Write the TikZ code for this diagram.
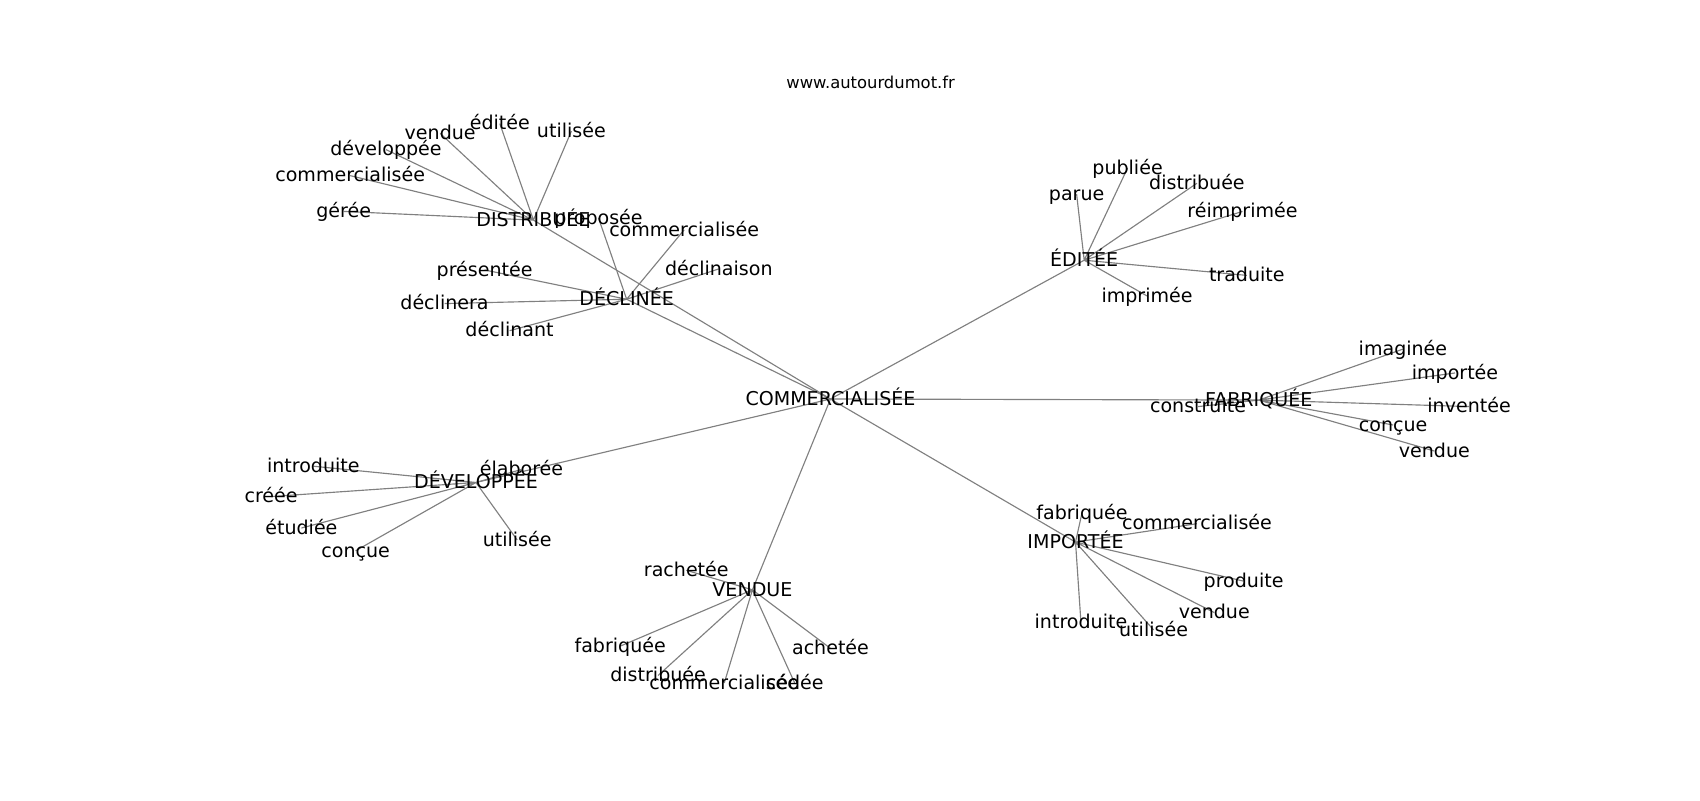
\documentclass[tikz,border=0pt]{standalone}
\usepackage{fontspec}
\setmainfont{DejaVu Sans}
\usetikzlibrary{backgrounds}

\begin{document}
\begin{tikzpicture}[x=0.02cm,y=-0.02cm,
    every node/.style={font=\fontsize{10}{12}\selectfont, text height=0.86em, text depth=0.2em, inner sep=0pt},
    lien/.style={draw=black!50, line width=0.6pt}]
    \useasboundingbox (0,0) rectangle (1568,738);
    \node[font=\fontsize{8.6}{10}\selectfont] (titre) at (803,76) {www.autourdumot.fr};
    % centre
    \node (C) at (766,368) {COMMERCIALISÉE};
    % distribuee
    \node (dis) at (492,203) {DISTRIBUÉE};
    \node (dis1) at (317,195) {gérée};
    \node (dis2) at (323,162) {commercialisée};
    \node (dis3) at (356,138) {développée};
    \node (dis4) at (406,123) {vendue};
    \node (dis5) at (461,114) {éditée};
    \node (dis6) at (527,121) {utilisée};
    % declinee
    \node (dec) at (578,276) {DÉCLINÉE};
    \node (dec1) at (447,249) {présentée};
    \node (dec2) at (410,280) {déclinera};
    \node (dec3) at (470,305) {déclinant};
    \node (dec4) at (552,201) {proposée};
    \node (dec5) at (631,212) {commercialisée};
    \node (dec6) at (663,248) {déclinaison};
    % editee
    \node (edi) at (1000,240) {ÉDITÉE};
    \node (edi1) at (993,179) {parue};
    \node (edi2) at (1040,155) {publiée};
    \node (edi3) at (1104,169) {distribuée};
    \node (edi4) at (1146,195) {réimprimée};
    \node (edi5) at (1150,254) {traduite};
    \node (edi6) at (1058,273) {imprimée};
    % fabriquee
    \node (fab) at (1161,369) {FABRIQUÉE};
    \node (fab1) at (1294,322) {imaginée};
    \node (fab2) at (1342,344) {importée};
    \node (fab3) at (1355,375) {inventée};
    \node (fab4) at (1285,392) {conçue};
    \node (fab5) at (1323,416) {vendue};
    \node (fab6) at (1105,375) {construite};
    % importee
    \node (imp) at (992,500) {IMPORTÉE};
    \node (imp1) at (998,473) {fabriquée};
    \node (imp2) at (1104,483) {commercialisée};
    \node (imp3) at (1147,536) {produite};
    \node (imp4) at (1120,565) {vendue};
    \node (imp5) at (1064,581) {utilisée};
    \node (imp6) at (997,574) {introduite};
    % vendue
    \node (ven) at (694,544) {VENDUE};
    \node (ven1) at (633,526) {rachetée};
    \node (ven2) at (572,596) {fabriquée};
    \node (ven3) at (607,623) {distribuée};
    \node (ven4) at (668,630) {commercialisée};
    \node (ven5) at (733,630) {cédée};
    \node (ven6) at (766,598) {achetée};
    % developpee
    \node (dev) at (439,445) {DÉVELOPPÉE};
    \node (dev1) at (481,433) {élaborée};
    \node (dev2) at (289,430) {introduite};
    \node (dev3) at (250,458) {créée};
    \node (dev4) at (278,487) {étudiée};
    \node (dev5) at (328,508) {conçue};
    \node (dev6) at (477,498) {utilisée};
    % liens
    \begin{scope}[on background layer]
    \draw[lien] (C.center)--(dis.center) (C.center)--(dec.center) (C.center)--(edi.center)
        (C.center)--(fab.center) (C.center)--(imp.center) (C.center)--(ven.center) (C.center)--(dev.center);
    \draw[lien] (dis.center)--(dis1.center) (dis.center)--(dis2.center) (dis.center)--(dis3.center)
        (dis.center)--(dis4.center) (dis.center)--(dis5.center) (dis.center)--(dis6.center);
    \draw[lien] (dec.center)--(dec1.center) (dec.center)--(dec2.center) (dec.center)--(dec3.center)
        (dec.center)--(dec4.center) (dec.center)--(dec5.center) (dec.center)--(dec6.center);
    \draw[lien] (edi.center)--(edi1.center) (edi.center)--(edi2.center) (edi.center)--(edi3.center)
        (edi.center)--(edi4.center) (edi.center)--(edi5.center) (edi.center)--(edi6.center);
    \draw[lien] (fab.center)--(fab1.center) (fab.center)--(fab2.center) (fab.center)--(fab3.center)
        (fab.center)--(fab4.center) (fab.center)--(fab5.center) (fab.center)--(fab6.center);
    \draw[lien] (imp.center)--(imp1.center) (imp.center)--(imp2.center) (imp.center)--(imp3.center)
        (imp.center)--(imp4.center) (imp.center)--(imp5.center) (imp.center)--(imp6.center);
    \draw[lien] (ven.center)--(ven1.center) (ven.center)--(ven2.center) (ven.center)--(ven3.center)
        (ven.center)--(ven4.center) (ven.center)--(ven5.center) (ven.center)--(ven6.center);
    \draw[lien] (dev.center)--(dev1.center) (dev.center)--(dev2.center) (dev.center)--(dev3.center)
        (dev.center)--(dev4.center) (dev.center)--(dev5.center) (dev.center)--(dev6.center);
    \end{scope}
\end{tikzpicture}
\end{document}
